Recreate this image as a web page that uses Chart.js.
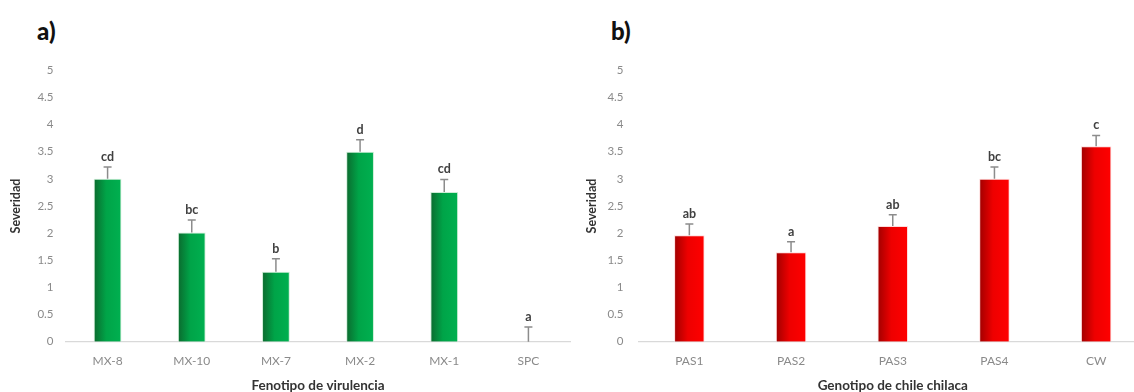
<!DOCTYPE html>
<html>
<head>
<meta charset="utf-8">
<script src="https://cdn.jsdelivr.net/npm/chart.js@4.4.1/dist/chart.umd.min.js"></script>
<style>
  html, body { margin:0; padding:0; background:#fff; width:1134px; height:392px; overflow:hidden; }
  .wrap { position:absolute; top:0; }
  .panel { position:absolute; font-family: Lato, "Open Sans", sans-serif; font-weight:900; font-size:24px; color:#111; line-height:1; }
</style>
</head>
<body>
<div class="panel" style="left:37px; top:19px;">a)</div>
<div class="panel" style="left:611px; top:19px;">b)</div>
<div class="wrap" style="left:0px; width:572px; height:395px;"><canvas id="cA"></canvas></div>
<div class="wrap" style="left:570px; width:590px; height:395px;"><canvas id="cB"></canvas></div>
<script>
// ---- data ----
const categoriesA = ['MX-8', 'MX-10', 'MX-7', 'MX-2', 'MX-1', 'SPC'];
const severityA   = [3.0, 2.01, 1.29, 3.5, 2.76, 0];
const errorA      = [0.22, 0.23, 0.24, 0.22, 0.23, 0.27];
const lettersA    = ['cd', 'bc', 'b', 'd', 'cd', 'a'];

const categoriesB = ['PAS1', 'PAS2', 'PAS3', 'PAS4', 'CW'];
const severityB   = [1.96, 1.65, 2.13, 3.0, 3.6];
const errorB      = [0.21, 0.19, 0.21, 0.22, 0.2];
const lettersB    = ['ab', 'a', 'ab', 'bc', 'c'];

const yTicks = [0, 0.5, 1, 1.5, 2, 2.5, 3, 3.5, 4, 4.5, 5];
const yTitle = 'Severidad';
const xTitleA = 'Fenotipo de virulencia';
const xTitleB = 'Genotipo de chile chilaca';

const FONT = 'Lato, "Open Sans", sans-serif';

function gradFill(stops) {
  return function(ctx) {
    const chart = ctx.chart;
    const xs = chart.scales.x;
    if (!xs || !chart.chartArea) return stops[stops.length-1][1];
    const cw = (xs.right - xs.left) / chart.data.labels.length;
    const ds = chart.data.datasets[0];
    const hw = cw * ds.barPercentage * ds.categoryPercentage / 2;
    const cx = xs.getPixelForValue(ctx.dataIndex);
    const g = chart.ctx.createLinearGradient(cx - hw, 0, cx + hw, 0);
    stops.forEach(s => g.addColorStop(s[0], s[1]));
    return g;
  };
}

const errorPlugin = {
  id: 'errLetters',
  afterDatasetsDraw(chart, args, opts) {
    const {ctx} = chart;
    const xs = chart.scales.x, ys = chart.scales.y;
    const vals = chart.data.datasets[0].data;
    ctx.save();
    vals.forEach((v, i) => {
      const x = xs.getPixelForValue(i);
      const y0 = ys.getPixelForValue(v);
      const y1 = ys.getPixelForValue(v + opts.errors[i]);
      ctx.strokeStyle = '#8c8c8c';
      ctx.lineWidth = 1.5;
      ctx.beginPath();
      ctx.moveTo(x, y0); ctx.lineTo(x, y1);
      ctx.moveTo(x - 4, y1); ctx.lineTo(x + 4, y1);
      ctx.stroke();
      ctx.fillStyle = '#404040';
      ctx.font = 'bold 12.5px ' + FONT;
      ctx.textAlign = 'center';
      ctx.textBaseline = 'alphabetic';
      ctx.fillText(opts.letters[i], x, y1 - 6);
    });
    ctx.restore();
  }
};

function makeChart(id, labels, data, errors, letters, xTitle, stops, cfg) {
  return new Chart(document.getElementById(id), {
    type: 'bar',
    data: {
      labels: labels,
      datasets: [{
        data: data,
        backgroundColor: gradFill(stops),
        borderColor: cfg.edge,
        borderWidth: 1,
        barPercentage: cfg.barPct,
        categoryPercentage: 1.0
      }]
    },
    options: {
      responsive: true,
      maintainAspectRatio: false,
      animation: false,
      events: [],
      layout: { padding: { top: cfg.top, right: cfg.right, bottom: 0, left: 0 } },
      plugins: {
        legend: { display: false },
        tooltip: { enabled: false },
        errLetters: { errors: errors, letters: letters }
      },
      scales: {
        x: {
          grid: { display: false, drawTicks: false },
          border: { display: true, color: '#d9d9d9', width: 1.2 },
          ticks: { color: '#8a8a8a', font: { family: FONT, size: 12 }, padding: cfg.xTickPad, maxRotation: 0 },
          title: { display: true, text: xTitle, color: '#333', font: { family: FONT, size: 13.5, weight: 'bold' }, padding: { top: 0, bottom: 1 } },
          afterFit: s => { s.height = cfg.xh; }
        },
        y: {
          min: 0, max: 5,
          afterBuildTicks: s => { s.ticks = yTicks.map(v => ({ value: v })); },
          grid: { display: false, drawTicks: false },
          border: { display: false },
          ticks: { color: '#8a8a8a', font: { family: FONT, size: 11.5 }, padding: cfg.yTickPad, callback: v => String(v) },
          title: { display: true, text: yTitle, color: '#333', font: { family: FONT, size: 12.5, weight: 'bold' }, padding: { top: cfg.yTitlePad, bottom: 0 } },
          afterFit: s => { s.width = cfg.yw; }
        }
      }
    },
    plugins: [errorPlugin]
  });
}

makeChart('cA', categoriesA, severityA, errorA, lettersA, xTitleA,
  [[0, '#0b6a2e'], [0.45, '#00a448'], [1, '#00b050']],
  { edge: 'rgba(200,235,210,0.9)', barPct: 0.33, top: 70.3, right: 1.5, xh: 53.3, xTickPad: 12, yw: 65.5, yTickPad: 12, yTitlePad: 8 });

makeChart('cB', categoriesB, severityB, errorB, lettersB, xTitleB,
  [[0, '#a00000'], [0.45, '#ee0000'], [1, '#ff0000']],
  { edge: 'rgba(255,215,215,0.9)', barPct: 0.30, top: 70.3, right: 13, xh: 53.3, xTickPad: 12, yw: 68.5, yTickPad: 15, yTitlePad: 14.5 });
</script>
</body>
</html>
